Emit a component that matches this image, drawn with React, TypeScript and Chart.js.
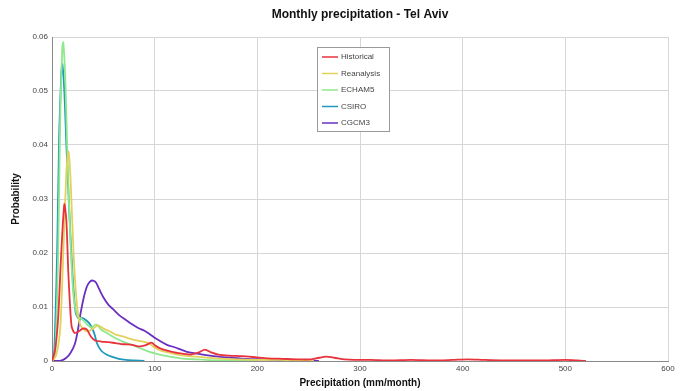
import React, { useEffect, useRef } from "react";
import { Chart, registerables } from "chart.js";

Chart.register(...registerables);

const chartTitle = "Monthly precipitation - Tel Aviv";
const xAxisTitle = "Precipitation (mm/month)";
const yAxisTitle = "Probability";
const xTicks = [0, 100, 200, 300, 400, 500, 600];
const yTicks = [0, 0.01, 0.02, 0.03, 0.04, 0.05, 0.06];
const seriesNames = ["Historical", "Reanalysis", "ECHAM5", "CSIRO", "CGCM3"];
const seriesColors = ["#e8323c", "#e2d25a", "#8ee88e", "#1e98be", "#6a2fc0"];

const historicalX = [0, 3, 6, 9, 12, 14, 16, 19, 22, 26, 30, 34, 38, 42, 48, 55, 62, 70, 78, 85, 92, 97, 101, 107, 115, 125, 135, 143, 149, 155, 162, 172, 185, 198, 210, 225, 240, 252, 260, 267, 275, 285, 295, 310, 330, 350, 370, 390, 405, 420, 440, 460, 480, 500, 512, 520];
const historicalY = [0, 0.002, 0.008, 0.02, 0.029, 0.026, 0.016, 0.0065, 0.0052, 0.0055, 0.006, 0.0058, 0.0045, 0.0038, 0.0036, 0.0035, 0.0033, 0.0031, 0.003, 0.0027, 0.003, 0.0034, 0.0028, 0.0022, 0.0018, 0.0014, 0.0012, 0.0016, 0.0021, 0.0016, 0.0012, 0.001, 0.0009, 0.0007, 0.0005, 0.0004, 0.0003, 0.0003, 0.0006, 0.0008, 0.0006, 0.0003, 0.0002, 0.0002, 0.0001, 0.0002, 0.0001, 0.0002, 0.0003, 0.0002, 0.0001, 0.0001, 0.0001, 0.0002, 0.0001, 0];

const reanalysisX = [0, 4, 8, 11, 14, 16, 18, 21, 24, 27, 31, 35, 40, 45, 50, 56, 62, 70, 78, 86, 94, 100, 106, 115, 125, 140, 160, 180, 200, 220, 240, 255];
const reanalysisY = [0, 0.001, 0.006, 0.02, 0.035, 0.0388, 0.034, 0.02, 0.011, 0.007, 0.0058, 0.0055, 0.006, 0.0066, 0.006, 0.0055, 0.0049, 0.0045, 0.004, 0.0037, 0.0033, 0.0025, 0.0019, 0.0015, 0.0011, 0.0008, 0.0005, 0.0003, 0.0002, 0.0002, 0.0001, 0];

const echamX = [0, 3, 6, 8, 10, 11, 13, 15, 18, 21, 25, 29, 34, 38, 43, 48, 55, 62, 70, 78, 88, 100, 112, 125, 140, 160, 180, 200];
const echamY = [0, 0.001, 0.02, 0.045, 0.058, 0.059, 0.052, 0.038, 0.022, 0.012, 0.0082, 0.0078, 0.0068, 0.0062, 0.0068, 0.0058, 0.005, 0.0042, 0.0035, 0.003, 0.0022, 0.0014, 0.0009, 0.0005, 0.0003, 0.0001, 0.0001, 0];

const csiroX = [0, 2, 5, 7, 9, 10, 12, 14, 17, 20, 23, 26, 29, 33, 37, 41, 44, 48, 53, 58, 65, 72, 80, 90];
const csiroY = [0, 0.001, 0.02, 0.042, 0.053, 0.055, 0.05, 0.04, 0.027, 0.016, 0.009, 0.0078, 0.008, 0.0076, 0.0068, 0.0052, 0.0032, 0.0019, 0.0012, 0.0008, 0.0004, 0.0002, 0.0001, 0];

const cgcmX = [0, 8, 14, 18, 22, 25, 28, 31, 34, 37, 40, 43, 46, 50, 55, 60, 66, 72, 78, 84, 90, 95, 100, 106, 112, 120, 130, 140, 150, 162, 175, 190, 205, 220, 240, 260];
const cgcmY = [0, 0, 0.0006, 0.0015, 0.003, 0.0055, 0.009, 0.0118, 0.0138, 0.0147, 0.0149, 0.0145, 0.0133, 0.0118, 0.0104, 0.0095, 0.0084, 0.0076, 0.0068, 0.0061, 0.0056, 0.005, 0.0043, 0.0036, 0.003, 0.0025, 0.0018, 0.0014, 0.0011, 0.0008, 0.0006, 0.0004, 0.0003, 0.0002, 0.0001, 0];

const seriesX = [historicalX, reanalysisX, echamX, csiroX, cgcmX];
const seriesY = [historicalY, reanalysisY, echamY, csiroY, cgcmY];

const textPlugin = {
  id: "customText",
  afterDraw(chart: any) {
    const ctx = chart.ctx;
    const a = chart.chartArea;
    ctx.save();
    ctx.fillStyle = "#111";
    ctx.textAlign = "center";
    ctx.textBaseline = "middle";
    ctx.font = "bold 12px 'Liberation Sans', Arial, sans-serif";
    ctx.fillText(chartTitle, (a.left + a.right) / 2, 15);
    ctx.font = "bold 10px 'Liberation Sans', Arial, sans-serif";
    ctx.fillText(xAxisTitle, (a.left + a.right) / 2, 383);
    ctx.save();
    ctx.translate(16, (a.top + a.bottom) / 2);
    ctx.rotate(-Math.PI / 2);
    ctx.fillText(yAxisTitle, 0, 0);
    ctx.restore();

    const lx = 317, ly = 47, lw = 72, lh = 84;
    ctx.fillStyle = "#ffffff";
    ctx.fillRect(lx, ly, lw, lh);
    ctx.strokeStyle = "#9a9a9a";
    ctx.lineWidth = 1;
    ctx.strokeRect(lx + 0.5, ly + 0.5, lw, lh);
    ctx.font = "8px 'Liberation Sans', Arial, sans-serif";
    ctx.textAlign = "left";
    seriesNames.forEach((name, i) => {
      const y = ly + 10 + i * 16.5;
      ctx.strokeStyle = seriesColors[i];
      ctx.lineWidth = 1.5;
      ctx.beginPath();
      ctx.moveTo(lx + 5, y);
      ctx.lineTo(lx + 21, y);
      ctx.stroke();
      ctx.fillStyle = "#444";
      ctx.fillText(name, lx + 24, y);
    });
    ctx.restore();
  },
};

export default function App() {
  const ref = useRef<HTMLCanvasElement | null>(null);
  useEffect(() => {
    if (!ref.current) return;
    const datasets = seriesNames.map((name, i) => ({
      label: name,
      data: seriesX[i].map((x, j) => ({ x, y: seriesY[i][j] })),
      borderColor: seriesColors[i],
      backgroundColor: seriesColors[i],
      borderWidth: 1.8,
      pointRadius: 0,
      tension: 0.25,
      fill: false,
    }));
    const chart = new Chart(ref.current, {
      type: "line",
      data: { datasets },
      plugins: [textPlugin],
      options: {
        animation: false,
        responsive: false,
        maintainAspectRatio: false,
        layout: { padding: { top: 37, right: 16, left: 0, bottom: 0 } },
        plugins: { legend: { display: false }, title: { display: false }, tooltip: { enabled: false } },
        scales: {
          x: {
            type: "linear",
            min: 0,
            max: 600,
            afterBuildTicks: (s: any) => { s.ticks = xTicks.map((v) => ({ value: v })); },
            afterFit: (s: any) => { s.height = 30; },
            grid: { color: "#d6d6d6", drawTicks: false },
            border: { color: "#8a8a8a" },
            ticks: { padding: 3, color: "#444", font: { size: 8, family: "'Liberation Sans', Arial, sans-serif" } },
          },
          y: {
            type: "linear",
            min: 0,
            max: 0.06,
            afterBuildTicks: (s: any) => { s.ticks = yTicks.map((v) => ({ value: v })); },
            afterFit: (s: any) => { s.width = 52; },
            grid: { color: "#d6d6d6", drawTicks: false },
            border: { color: "#8a8a8a" },
            ticks: {
              padding: 4,
              color: "#444",
              font: { size: 8, family: "'Liberation Sans', Arial, sans-serif" },
              callback: (v: any) => (v === 0 ? "0" : Number(v).toFixed(2)),
            },
          },
        },
      },
    });
    return () => chart.destroy();
  }, []);
  return (
    <div style={{ position: "fixed", left: 0, top: 0, width: 684, height: 391, background: "#fff" }}>
      <canvas ref={ref} width={684} height={391} style={{ width: 684, height: 391 }} />
    </div>
  );
}
